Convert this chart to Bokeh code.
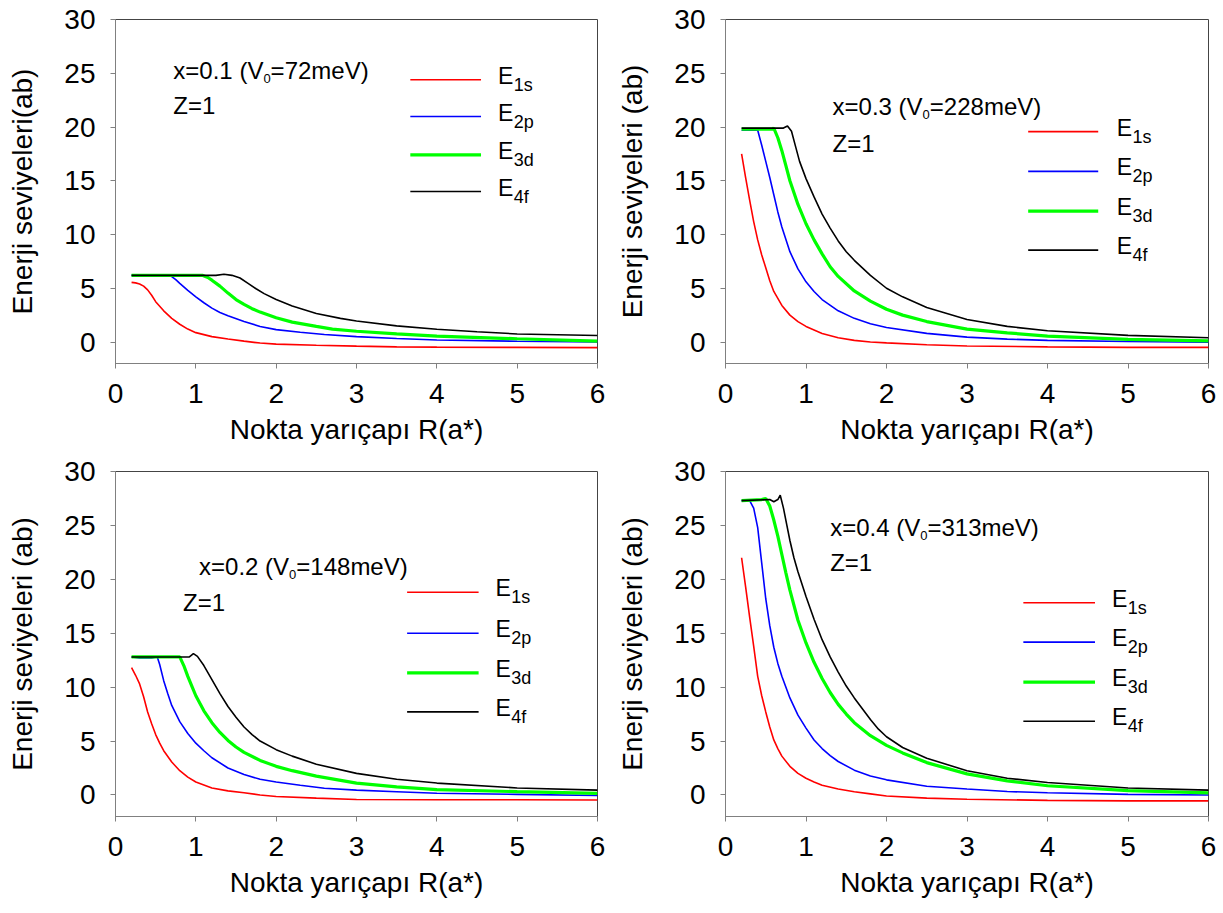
from bokeh.plotting import figure
from bokeh.layouts import gridplot
from bokeh.models import Label, FixedTicker, Range1d
from bokeh.embed import file_html
from bokeh.resources import INLINE

FONT = "Liberation Sans"

# ---------------- data ----------------
x_ticks = [0, 1, 2, 3, 4, 5, 6]
y_ticks = [0, 5, 10, 15, 20, 25, 30]
x_label = "Nokta yarıçapı R(a*)"

level_names = ["1s", "2p", "3d", "4f"]

# panel 1 : x=0.1 (V0=72meV)
p1_x_1s = [0.2, 0.25, 0.3, 0.35, 0.4, 0.45, 0.5, 0.6, 0.7, 0.8, 0.9, 1.0, 1.2, 1.4, 1.6, 1.8, 2.0, 2.5, 3.0, 3.5, 4.0, 5.0, 6.0]
p1_e_1s = [5.55, 5.5, 5.4, 5.2, 4.85, 4.35, 3.75, 2.9, 2.2, 1.65, 1.2, 0.87, 0.5, 0.28, 0.08, -0.1, -0.2, -0.3, -0.38, -0.45, -0.48, -0.5, -0.52]
p1_x_2p = [0.2, 0.68, 0.75, 0.8, 0.9, 1.0, 1.1, 1.2, 1.3, 1.4, 1.6, 1.8, 2.0, 2.3, 2.6, 3.0, 3.5, 4.0, 5.0, 6.0]
p1_e_2p = [6.2, 6.2, 5.8, 5.45, 4.8, 4.2, 3.65, 3.15, 2.75, 2.45, 1.9, 1.45, 1.15, 0.9, 0.7, 0.5, 0.32, 0.18, 0.07, 0.0]
p1_x_3d = [0.2, 1.08, 1.15, 1.2, 1.3, 1.4, 1.5, 1.6, 1.7, 1.8, 2.0, 2.2, 2.5, 2.7, 3.0, 3.5, 4.0, 5.0, 6.0]
p1_e_3d = [6.2, 6.2, 6.0, 5.75, 5.2, 4.55, 3.95, 3.5, 3.1, 2.78, 2.25, 1.85, 1.45, 1.2, 1.0, 0.75, 0.55, 0.3, 0.08]
p1_x_4f = [0.2, 1.25, 1.35, 1.45, 1.55, 1.65, 1.75, 1.85, 2.0, 2.2, 2.5, 2.8, 3.0, 3.5, 4.0, 4.5, 5.0, 6.0]
p1_e_4f = [6.2, 6.2, 6.3, 6.2, 5.95, 5.45, 4.95, 4.5, 3.95, 3.35, 2.65, 2.2, 1.95, 1.5, 1.18, 0.95, 0.75, 0.6]

# panel 2 : x=0.3 (V0=228meV)
p2_x_1s = [0.2, 0.25, 0.3, 0.35, 0.4, 0.45, 0.5, 0.55, 0.6, 0.7, 0.8, 0.9, 1.0, 1.2, 1.4, 1.6, 1.8, 2.0, 2.5, 3.0, 4.0, 5.0, 6.0]
p2_e_1s = [17.5, 15.3, 13.2, 11.2, 9.5, 8.1, 6.9, 5.7, 4.7, 3.4, 2.5, 1.9, 1.45, 0.8, 0.4, 0.15, 0.0, -0.08, -0.25, -0.37, -0.45, -0.5, -0.5]
p2_x_2p = [0.2, 0.4, 0.45, 0.5, 0.55, 0.6, 0.65, 0.7, 0.8, 0.9, 1.0, 1.1, 1.2, 1.4, 1.6, 1.8, 2.0, 2.5, 3.0, 3.5, 4.0, 5.0, 6.0]
p2_e_2p = [19.7, 19.7, 18.3, 16.8, 15.3, 13.7, 12.1, 10.7, 8.4, 6.8, 5.6, 4.7, 3.95, 2.9, 2.2, 1.7, 1.35, 0.8, 0.45, 0.27, 0.15, 0.05, -0.02]
p2_x_3d = [0.2, 0.58, 0.6, 0.65, 0.7, 0.75, 0.8, 0.9, 1.0, 1.1, 1.2, 1.3, 1.4, 1.6, 1.8, 2.0, 2.2, 2.5, 3.0, 3.5, 4.0, 5.0, 6.0]
p2_e_3d = [19.8, 19.8, 19.9, 19.0, 17.8, 16.4, 15.0, 12.8, 11.0, 9.5, 8.2, 7.0, 6.1, 4.75, 3.8, 3.05, 2.5, 1.9, 1.2, 0.85, 0.55, 0.25, 0.1]
p2_x_4f = [0.2, 0.72, 0.77, 0.82, 0.87, 0.92, 1.0, 1.1, 1.2, 1.3, 1.4, 1.5, 1.6, 1.8, 2.0, 2.2, 2.5, 3.0, 3.5, 4.0, 5.0, 6.0]
p2_e_4f = [19.9, 19.9, 20.1, 19.6, 18.2, 16.8, 15.2, 13.5, 11.9, 10.6, 9.4, 8.4, 7.6, 6.2, 5.0, 4.2, 3.2, 2.1, 1.45, 1.05, 0.62, 0.4]

# panel 3 : x=0.2 (V0=148meV)
p3_x_1s = [0.2, 0.25, 0.3, 0.35, 0.4, 0.45, 0.5, 0.55, 0.6, 0.7, 0.8, 0.9, 1.0, 1.2, 1.4, 1.6, 1.8, 2.0, 2.5, 3.0, 4.0, 5.0, 6.0]
p3_e_1s = [11.8, 11.1, 10.3, 9.1, 7.7, 6.6, 5.6, 4.8, 4.1, 3.05, 2.25, 1.65, 1.2, 0.65, 0.38, 0.2, 0.0, -0.15, -0.3, -0.42, -0.45, -0.45, -0.47]
p3_x_2p = [0.2, 0.3, 0.45, 0.52, 0.55, 0.6, 0.65, 0.7, 0.8, 0.9, 1.0, 1.1, 1.2, 1.4, 1.6, 1.8, 2.0, 2.3, 2.6, 3.0, 3.5, 4.0, 5.0, 6.0]
p3_e_2p = [12.8, 12.7, 12.7, 12.8, 12.1, 10.6, 9.4, 8.3, 6.8, 5.7, 4.8, 4.1, 3.45, 2.5, 1.9, 1.45, 1.2, 0.9, 0.62, 0.45, 0.3, 0.15, 0.05, -0.05]
p3_x_3d = [0.2, 0.8, 0.85, 0.9, 0.95, 1.0, 1.1, 1.2, 1.3, 1.4, 1.5, 1.6, 1.8, 2.0, 2.2, 2.5, 3.0, 3.5, 4.0, 5.0, 6.0]
p3_e_3d = [12.8, 12.8, 12.0, 11.0, 10.1, 9.2, 7.8, 6.7, 5.8, 5.05, 4.45, 3.95, 3.2, 2.65, 2.25, 1.75, 1.1, 0.75, 0.5, 0.3, 0.15]
p3_x_4f = [0.2, 0.92, 0.97, 1.02, 1.1, 1.2, 1.3, 1.4, 1.5, 1.6, 1.7, 1.8, 2.0, 2.2, 2.5, 3.0, 3.5, 4.0, 5.0, 6.0]
p3_e_4f = [12.8, 12.8, 13.1, 12.85, 12.0, 10.7, 9.4, 8.2, 7.2, 6.3, 5.6, 5.0, 4.2, 3.6, 2.85, 2.0, 1.45, 1.1, 0.65, 0.45]

# panel 4 : x=0.4 (V0=313meV)
p4_x_1s = [0.2, 0.25, 0.3, 0.35, 0.4, 0.45, 0.5, 0.55, 0.6, 0.65, 0.7, 0.8, 0.9, 1.0, 1.1, 1.2, 1.4, 1.6, 1.8, 2.0, 2.5, 3.0, 4.0, 5.0, 6.0]
p4_e_1s = [22.0, 19.3, 16.5, 13.8, 11.0, 9.2, 7.7, 6.3, 5.1, 4.3, 3.6, 2.65, 2.0, 1.55, 1.2, 0.9, 0.55, 0.3, 0.1, -0.1, -0.3, -0.4, -0.5, -0.55, -0.55]
p4_x_2p = [0.2, 0.3, 0.35, 0.4, 0.45, 0.5, 0.55, 0.6, 0.65, 0.7, 0.8, 0.9, 1.0, 1.1, 1.2, 1.3, 1.4, 1.6, 1.8, 2.0, 2.5, 3.0, 3.5, 4.0, 5.0, 6.0]
p4_e_2p = [27.3, 27.3, 26.6, 24.8, 21.5, 18.2, 15.7, 13.7, 12.2, 11.0, 9.0, 7.4, 6.2, 5.1, 4.3, 3.65, 3.1, 2.3, 1.75, 1.4, 0.8, 0.55, 0.32, 0.2, 0.05, 0.0]
p4_x_3d = [0.2, 0.45, 0.5, 0.55, 0.6, 0.65, 0.7, 0.75, 0.8, 0.9, 1.0, 1.1, 1.2, 1.3, 1.4, 1.5, 1.6, 1.8, 2.0, 2.2, 2.5, 3.0, 3.5, 4.0, 5.0, 6.0]
p4_e_3d = [27.3, 27.4, 27.5, 26.8, 25.5, 24.0, 22.3, 20.6, 19.0, 16.2, 14.1, 12.3, 10.8, 9.5, 8.4, 7.5, 6.7, 5.5, 4.6, 3.9, 3.0, 1.95, 1.3, 0.85, 0.4, 0.2]
p4_x_4f = [0.2, 0.55, 0.6, 0.65, 0.68, 0.72, 0.76, 0.8, 0.85, 0.9, 1.0, 1.1, 1.2, 1.3, 1.4, 1.5, 1.6, 1.7, 1.8, 1.9, 2.0, 2.2, 2.5, 3.0, 3.5, 4.0, 5.0, 6.0]
p4_e_4f = [27.3, 27.4, 27.2, 27.4, 27.8, 26.6, 25.1, 23.6, 22.0, 20.7, 18.4, 16.3, 14.4, 12.8, 11.4, 10.1, 9.0, 8.0, 7.0, 6.1, 5.4, 4.4, 3.4, 2.25, 1.55, 1.15, 0.65, 0.45]

panel_x_frac = ["0.1", "0.3", "0.2", "0.4"]
panel_v0 = ["72", "228", "148", "313"]
panel_ylabel = ["Enerji seviyeleri(ab)", "Enerji seviyeleri (ab)",
                "Enerji seviyeleri (ab)", "Enerji seviyeleri (ab)"]

# ---------------- styles / layout ----------------
COLORS = ["#ff0000", "#0000ff", "#00ff00", "#000000"]
WIDTHS = [1.6, 1.6, 3.2, 1.6]

# Arial/Liberation Sans advance widths (per 1000 em)
ADV = {"x": 500, "=": 584, ".": 278, " ": 278, "(": 333, ")": 333, "V": 667,
       "m": 833, "e": 556, "E": 667, "Z": 611}
for d in "0123456789":
    ADV[d] = 556


def tw(s, size):
    return sum(ADV.get(c, 556) for c in s) * size / 1000.0


LAYOUT = [
    dict(fw=482, fh=344, bl=115, br=17, bt=19, bb=91,
         tx=0.72, ty=25.3, zx=0.72, zy=22.0,
         lx0=3.67, lx1=4.55, ly=[24.4, 20.97, 17.4, 14.0], ltx=4.76),
    dict(fw=483, fh=344, bl=107, br=10, bt=19, bb=91,
         tx=1.33, ty=21.9, zx=1.33, zy=18.5,
         lx0=3.76, lx1=4.63, ly=[19.57, 15.87, 12.18, 8.55], ltx=4.86),
    dict(fw=482, fh=345, bl=115, br=17, bt=17, bb=91,
         tx=1.04, ty=21.2, zx=0.84, zy=17.85,
         lx0=3.63, lx1=4.52, ly=[18.8, 15.0, 11.33, 7.7], ltx=4.73),
    dict(fw=483, fh=345, bl=107, br=10, bt=17, bb=91,
         tx=1.30, ty=24.8, zx=1.30, zy=21.55,
         lx0=3.70, lx1=4.59, ly=[17.83, 14.17, 10.47, 6.83], ltx=4.80),
]

SERIES = [
    [(p1_x_1s, p1_e_1s), (p1_x_2p, p1_e_2p), (p1_x_3d, p1_e_3d), (p1_x_4f, p1_e_4f)],
    [(p2_x_1s, p2_e_1s), (p2_x_2p, p2_e_2p), (p2_x_3d, p2_e_3d), (p2_x_4f, p2_e_4f)],
    [(p3_x_1s, p3_e_1s), (p3_x_2p, p3_e_2p), (p3_x_3d, p3_e_3d), (p3_x_4f, p3_e_4f)],
    [(p4_x_1s, p4_e_1s), (p4_x_2p, p4_e_2p), (p4_x_3d, p4_e_3d), (p4_x_4f, p4_e_4f)],
]

ANN = 24      # annotation font px
SUB = 13      # V0 subscript px
LEG = 23      # legend E px
LSUB = 18     # legend subscript px


def lab(p, x, y, text, size, xo=0, yo=0):
    p.add_layout(Label(x=x, y=y, text=text, x_offset=xo, y_offset=yo,
                       text_font=FONT, text_font_size=f"{size}px",
                       text_color="#000000", text_baseline="middle",
                       text_align="left"))


def make_panel(i):
    L = LAYOUT[i]
    p = figure(frame_width=L["fw"], frame_height=L["fh"],
               min_border_left=L["bl"], min_border_right=L["br"],
               min_border_top=L["bt"], min_border_bottom=L["bb"],
               x_range=Range1d(0, 6), y_range=Range1d(-2, 30),
               output_backend="svg", toolbar_location=None)
    p.background_fill_color = "white"
    p.border_fill_color = "white"
    p.outline_line_color = "#444444"
    p.outline_line_width = 1
    p.xgrid.visible = False
    p.ygrid.visible = False

    p.xaxis.ticker = FixedTicker(ticks=x_ticks)
    p.yaxis.ticker = FixedTicker(ticks=y_ticks)
    p.axis.minor_tick_line_color = None
    p.axis.major_tick_in = 0
    p.axis.major_tick_out = 5
    p.axis.axis_line_color = "#808080"
    p.axis.major_tick_line_color = "#808080"
    p.axis.major_label_text_font = FONT
    p.axis.major_label_text_font_size = "28px"
    p.axis.major_label_text_color = "#000000"
    p.axis.axis_label_text_font = FONT
    p.axis.axis_label_text_font_size = "28px"
    p.axis.axis_label_text_font_style = "normal"
    p.axis.axis_label_text_color = "#000000"
    p.xaxis.major_label_standoff = 15
    p.xaxis.axis_label_standoff = 8
    p.yaxis.major_label_standoff = 15
    p.yaxis.axis_label_standoff = 23
    p.xaxis.axis_label = x_label
    p.yaxis.axis_label = panel_ylabel[i]

    for k, (xs, ys) in enumerate(SERIES[i]):
        p.line(xs, ys, line_color=COLORS[k], line_width=WIDTHS[k])

    # annotation text: x=0.1 (V0=72meV) / Z=1
    t1 = f"x={panel_x_frac[i]} (V"
    t2 = f"={panel_v0[i]}meV)"
    lab(p, L["tx"], L["ty"], t1, ANN)
    lab(p, L["tx"], L["ty"], "0", SUB, xo=tw(t1, ANN), yo=-8)
    lab(p, L["tx"], L["ty"], t2, ANN, xo=tw(t1, ANN) + tw("0", SUB))
    lab(p, L["zx"], L["zy"], "Z=1", ANN)

    # legend
    for k, name in enumerate(level_names):
        y = L["ly"][k]
        p.line([L["lx0"], L["lx1"]], [y, y], line_color=COLORS[k], line_width=WIDTHS[k])
        lab(p, L["ltx"], y, "E", LEG, yo=4)
        lab(p, L["ltx"], y, name, LSUB, xo=tw("E", LEG) + 0.5, yo=-5)
    return p


figs = [make_panel(i) for i in range(4)]
grid = gridplot([[figs[0], figs[1]], [figs[2], figs[3]]], toolbar_location=None)

open("out.html", "w").write(file_html(grid, INLINE))
